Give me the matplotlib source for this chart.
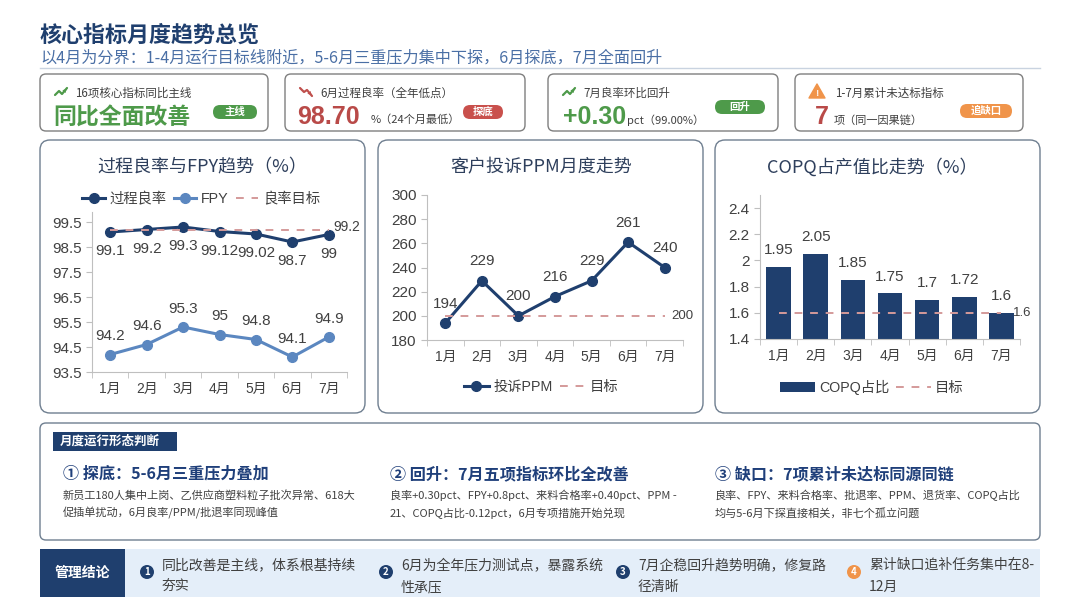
import matplotlib
matplotlib.use("Agg")
import matplotlib.pyplot as plt
from matplotlib.patches import FancyBboxPatch, Rectangle, Circle, Polygon
import numpy as np

plt.rcParams['font.family'] = ['Noto Sans CJK SC', 'DejaVu Sans']

W, H = 1080, 608

# data
months = ['1月', '2月', '3月', '4月', '5月', '6月', '7月']
yield_rate = [99.1, 99.2, 99.3, 99.12, 99.02, 98.7, 99]
fpy = [94.2, 94.6, 95.3, 95, 94.8, 94.1, 94.9]
yield_target = 99.2
ppm = [194, 229, 200, 216, 229, 261, 240]
ppm_target = 200
copq = [1.95, 2.05, 1.85, 1.75, 1.7, 1.72, 1.6]
copq_target = 1.6

NAVY = '#1f3f6e'
LIGHT = '#5b87c0'
TARGET = '#d49a9a'
GREEN = '#4e9a4a'
RED = '#b94a48'
ORANGE = '#f0944a'
GREY = '#404040'
NUMFONT = ['Liberation Sans', 'Noto Sans CJK SC']


def px(x0, y0, x1, y1):
    return [x0 / W, 1 - y1 / H, (x1 - x0) / W, (y1 - y0) / H]


fig = plt.figure(figsize=(W / 100, H / 100), dpi=100)
fig.patch.set_facecolor('white')
bg = fig.add_axes([0, 0, 1, 1])
bg.set_xlim(0, W)
bg.set_ylim(H, 0)
bg.axis('off')


def rbox(x0, y0, x1, y1, fc='white', ec='#7f7f7f', lw=1.0, r=6):
    bg.add_patch(FancyBboxPatch((x0, y0), x1 - x0, y1 - y0,
                                boxstyle='round,pad=0,rounding_size=%d' % r,
                                fc=fc, ec=ec, lw=lw))


# header
bg.text(40, 35, '核心指标月度趋势总览', fontsize=15.8, fontweight='bold', color=NAVY, va='center')
bg.text(40, 58, '以4月为分界：1-4月运行目标线附近，5-6月三重压力集中下探，6月探底，7月全面回升',
        fontsize=11.6, color='#4a6fa5', va='center')
bg.plot([40, 1040], [68, 68], color='#c9d3e0', lw=1)


def trend_icon(x, y, color, up=True):
    xs = [x, x + 4, x + 7, x + 12]
    if up:
        ys = [y + 3, y - 1, y + 2, y - 4]
    else:
        ys = [y - 4, y + 0, y - 2, y + 4]
    bg.plot(xs, ys, color=color, lw=1.6, solid_capstyle='round')
    bg.annotate('', xy=(xs[-1] + 1.5, ys[-1] + (-1.5 if up else 1.5)), xytext=(xs[-2], ys[-2]),
                arrowprops=dict(arrowstyle='-|>', color=color, lw=0.1, mutation_scale=7))


def pill(x0, x1, y, text, color):
    bg.add_patch(FancyBboxPatch((x0, y - 7), x1 - x0, 14,
                                boxstyle='round,pad=0,rounding_size=7', fc=color, ec='none'))
    bg.text((x0 + x1) / 2, y, text, fontsize=7.5, color='white', fontweight='bold',
            ha='center', va='center')


# KPI cards
rbox(40, 74, 268, 131)
trend_icon(55, 92, GREEN, up=True)
bg.text(75, 93, '16项核心指标同比主线', fontsize=8.3, color=GREY, va='center')
bg.text(53, 117, '同比全面改善', fontsize=16.5, color=GREEN, fontweight='bold', va='center')
pill(213, 257, 112, '主线', GREEN)

rbox(285, 74, 525, 131)
trend_icon(300, 92, '#c0504d', up=False)
bg.text(320, 93, '6月过程良率（全年低点）', fontsize=8.3, color=GREY, va='center')
bg.text(297, 117, '98.70', fontsize=18, color=RED, fontweight='bold', va='center',
        family=NUMFONT)
bg.text(371, 120, '%（24个月最低）', fontsize=8, color=GREY, va='center')
pill(463, 503, 112, '探底', '#c9504c')

rbox(548, 74, 778, 131)
trend_icon(563, 92, GREEN, up=True)
bg.text(583, 93, '7月良率环比回升', fontsize=8.3, color=GREY, va='center')
bg.text(563, 117, '+0.30', fontsize=18, color=GREEN, fontweight='bold', va='center',
        family=NUMFONT)
bg.text(627, 120, 'pct（99.00%）', fontsize=8, color=GREY, va='center')
pill(715, 765, 107, '回升', GREEN)

rbox(795, 74, 1023, 131)
bg.add_patch(Polygon([[809, 98], [817, 84], [825, 98]], closed=True, fc=ORANGE, ec=ORANGE,
                     lw=1, joinstyle='round'))
bg.text(817, 93, '!', fontsize=6.5, color='white', fontweight='bold', ha='center', va='center')
bg.text(835, 93, '1-7月累计未达标指标', fontsize=8.3, color=GREY, va='center')
bg.text(815, 117, '7', fontsize=18, color=RED, fontweight='bold', va='center', family=NUMFONT)
bg.text(834, 120, '项（同一因果链）', fontsize=8, color=GREY, va='center')
pill(960, 1012, 111, '追缺口', ORANGE)

# chart panels
for x0, x1 in [(40, 365), (378, 703), (715, 1040)]:
    rbox(x0, 140, x1, 413, ec='#6f7f90', r=10)


def style_axis(ax):
    ax.set_facecolor('none')
    for s in ['top', 'right']:
        ax.spines[s].set_visible(False)
    for s in ['left', 'bottom']:
        ax.spines[s].set_color('#bfbfbf')
    ax.set_xlim(-0.5, 6.5)
    ax.set_xticks(range(7))
    ax.set_xticklabels(months)
    ax.set_xticks(np.arange(-0.5, 7, 1), minor=True)
    ax.tick_params(axis='x', which='major', length=0, pad=7, labelsize=10, labelcolor=GREY)
    ax.tick_params(axis='x', which='minor', length=4, color='#bfbfbf')
    ax.tick_params(axis='y', length=4, color='#bfbfbf', labelsize=11, labelcolor=GREY)
    for lab in ax.get_xticklabels() + ax.get_yticklabels():
        lab.set_family(NUMFONT)


def num_label(ax, text, xy, dy, dx=0, size=11):
    ax.annotate(text, xy, xytext=(dx, dy), textcoords='offset points', ha='center',
                va='center', fontsize=size, color=GREY, family=NUMFONT)


x = np.arange(len(months))
leg_kw = dict(loc='center', bbox_transform=fig.transFigure, frameon=False,
              handletextpad=0.3, columnspacing=0.5, labelcolor=GREY,
              prop={'family': NUMFONT, 'size': 10.3})

# chart 1
bg.text(202, 167, '过程良率与FPY趋势（%）', fontsize=13, color='#2e3f5c', ha='center', va='center')
ax1 = fig.add_axes(px(92, 212, 347, 372))
h1, = ax1.plot(x, yield_rate, color=NAVY, lw=2.2, marker='o', ms=7, label='过程良率')
h2, = ax1.plot(x, fpy, color=LIGHT, lw=2.2, marker='o', ms=7, label='FPY')
h3, = ax1.plot(x, [yield_target] * len(x), color=TARGET, lw=1.4, ls=(0, (4, 4)), label='良率目标')
ax1.set_ylim(93.5, 99.9)
ax1.set_yticks(np.arange(93.5, 100, 1))
style_axis(ax1)
for i, v in enumerate(yield_rate):
    num_label(ax1, '%g' % v, (i, v), -14)
for i, v in enumerate(fpy):
    num_label(ax1, '%g' % v, (i, v), 13)
num_label(ax1, '%g' % yield_target, (6, yield_target), 2, dx=13, size=10)
ax1.legend(handles=[h1, h2, h3], bbox_to_anchor=(201 / W, 1 - 199 / H), ncol=3,
           handlelength=1.6, **leg_kw)

# chart 2
bg.text(541, 167, '客户投诉PPM月度走势', fontsize=13, color='#2e3f5c', ha='center', va='center')
ax2 = fig.add_axes(px(427, 195, 683, 340))
p1, = ax2.plot(x, ppm, color=NAVY, lw=2.2, marker='o', ms=7, label='投诉PPM')
p2, = ax2.plot(x, [ppm_target] * len(x), color=TARGET, lw=1.4, ls=(0, (4, 4)), label='目标')
ax2.set_ylim(180, 300)
ax2.set_yticks(np.arange(180, 301, 20))
style_axis(ax2)
for i, v in enumerate(ppm):
    num_label(ax2, '%g' % v, (i, v), 14)
num_label(ax2, '%g' % ppm_target, (6, ppm_target), 0, dx=13, size=9.5)
ax2.legend(handles=[p1, p2], bbox_to_anchor=(541 / W, 1 - 387 / H), ncol=2,
           handlelength=1.8, **leg_kw)

# chart 3
bg.text(872, 167, 'COPQ占产值比走势（%）', fontsize=13, color='#2e3f5c', ha='center', va='center')
ax3 = fig.add_axes(px(760, 195, 1020, 339))
c1 = ax3.bar(x, copq, width=0.66, color=NAVY, label='COPQ占比', zorder=2)
c2, = ax3.plot(x, [copq_target] * len(x), color=TARGET, lw=1.4, ls=(0, (4, 4)), label='目标', zorder=3)
ax3.set_ylim(1.4, 2.5)
ax3.set_yticks(np.arange(1.4, 2.41, 0.2))
ax3.set_yticklabels(['%g' % round(t, 1) for t in np.arange(1.4, 2.41, 0.2)])
style_axis(ax3)
for i, v in enumerate(copq):
    num_label(ax3, '%g' % v, (i, v), 12)
num_label(ax3, '%g' % copq_target, (6, copq_target), 0, dx=15, size=9.5)
ax3.legend(handles=[c1, c2], bbox_to_anchor=(872 / W, 1 - 387 / H), ncol=2,
           handlelength=2.4, **leg_kw)

# monthly judgement panel
rbox(40, 423, 1040, 540, ec='#6f7f90', r=6)
bg.add_patch(Rectangle((53, 432), 124, 19, fc=NAVY, ec='none'))
bg.text(60, 441.5, '月度运行形态判断', fontsize=9, color='white', fontweight='bold', va='center')

cols = [
    (63, '① 探底：5-6月三重压力叠加',
     ['新员工180人集中上岗、乙供应商塑料粒子批次异常、618大', '促插单扰动，6月良率/PPM/批退率同现峰值']),
    (390, '② 回升：7月五项指标环比全改善',
     ['良率+0.30pct、FPY+0.8pct、来料合格率+0.40pct、PPM -', '21、COPQ占比-0.12pct，6月专项措施开始兑现']),
    (715, '③ 缺口：7项累计未达标同源同链',
     ['良率、FPY、来料合格率、批退率、PPM、退货率、COPQ占比', '均与5-6月下探直接相关，非七个孤立问题']),
]
for cx, head, body in cols:
    bg.text(cx, 474, head, fontsize=11.6, color='#1f3f7a', fontweight='bold', va='center')
    bg.text(cx, 495, body[0], fontsize=8, color=GREY, va='center')
    bg.text(cx, 513, body[1], fontsize=8, color=GREY, va='center')

# management conclusion bar
bg.add_patch(Rectangle((40, 549), 1000, 48, fc='#e4eef9', ec='none'))
bg.add_patch(Rectangle((40, 549), 85, 48, fc=NAVY, ec='none'))
bg.text(82.5, 573, '管理结论', fontsize=10, color='white', fontweight='bold', ha='center', va='center')

concl = [
    (147, '1', NAVY, ['同比改善是主线，体系根基持续', '夯实']),
    (386, '2', NAVY, ['6月为全年压力测试点，暴露系统', '性承压']),
    (623, '3', NAVY, ['7月企稳回升趋势明确，修复路', '径清晰']),
    (854, '4', ORANGE, ['累计缺口追补任务集中在8-', '12月']),
]
for cx, num, col, lines in concl:
    bg.add_patch(Circle((cx, 572), 7, fc=col, ec='none'))
    bg.text(cx, 572, num, fontsize=7, color='white', fontweight='bold', ha='center', va='center')
    bg.text(cx + 15, 565, lines[0], fontsize=10, color=GREY, va='center')
    bg.text(cx + 15, 587, lines[1], fontsize=10, color=GREY, va='center')

fig.savefig('out.png', dpi=100, facecolor='white')
